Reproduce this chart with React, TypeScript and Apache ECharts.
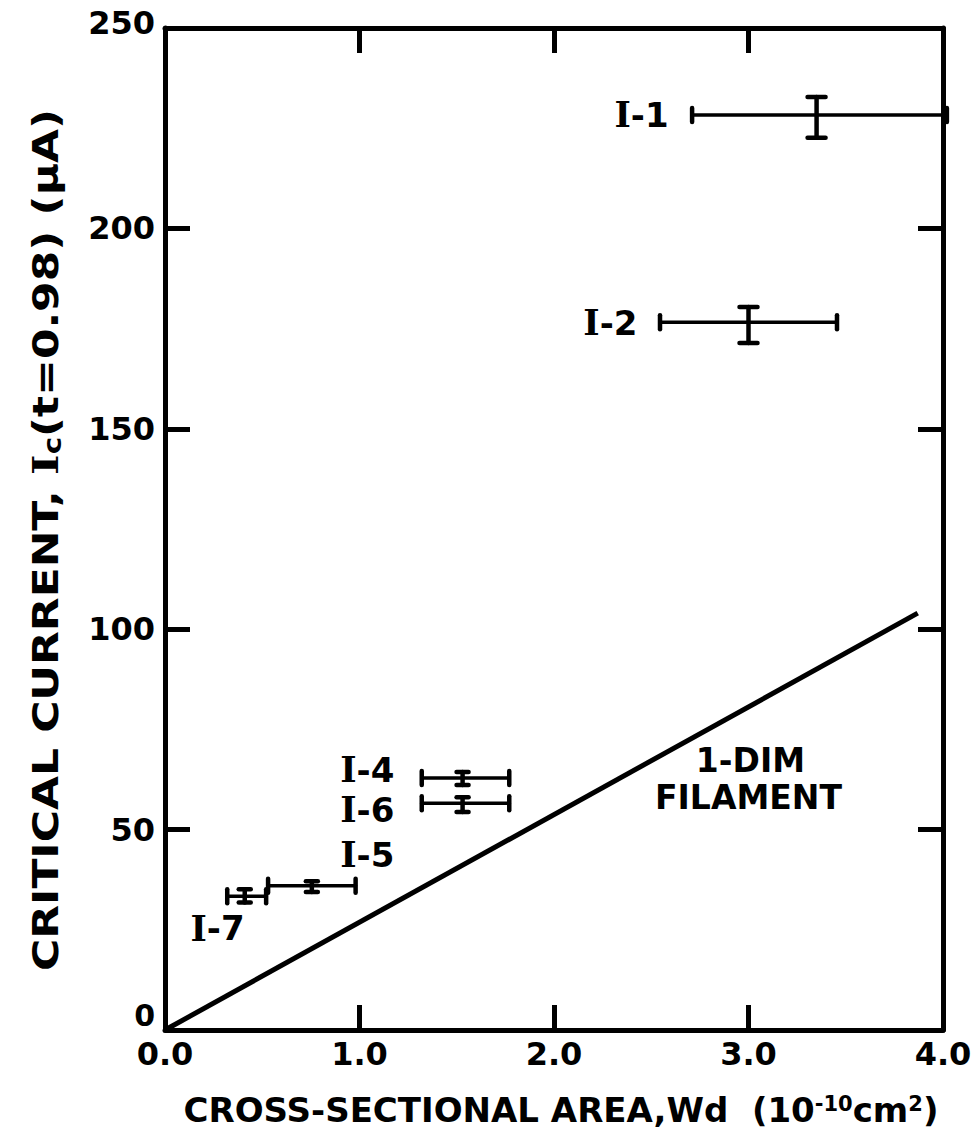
import React, { useEffect, useRef } from "react";
import * as echarts from "echarts";

// Error-bar samples: [xCenter, yCenter, xLow, xHigh, yLow, yHigh]
const sampleNames = ["I-1", "I-2", "I-4", "I-6", "I-5", "I-7"];
const sampleX = [3.35, 3.0, 1.53, 1.53, 0.755, 0.41];
const sampleY = [228.3, 176.6, 62.9, 56.6, 36.0, 33.4];
const sampleXLow = [2.71, 2.545, 1.32, 1.32, 0.53, 0.32];
const sampleXHigh = [4.02, 3.455, 1.77, 1.77, 0.98, 0.52];
const sampleYLow = [222.6, 171.4, 61.1, 54.4, 34.4, 31.8];
const sampleYHigh = [232.8, 180.4, 64.4, 58.1, 37.1, 35.1];

// Label anchor positions (data coordinates)
const labelX = [2.45, 2.29, 1.04, 1.04, 1.04, 0.27];
const labelY = [228.3, 176.4, 64.9, 54.9, 43.7, 25.4];

// 1-dim filament line
const filamentX = [0, 3.87];
const filamentY = [0, 104];
const filamentText = ["1-DIM", "FILAMENT"];
const filamentTextX = [3.01, 3.0];
const filamentTextY = [67.3, 58.0];

const xTicks = [0, 1, 2, 3, 4];
const yTicks = [0, 50, 100, 150, 200, 250];

const xTitle = "CROSS-SECTIONAL AREA,Wd  (10{sup|-10}cm{sup|2})";
const yTitle = "CRITICAL CURRENT, {ser|I}{sub|c}(t=0.98) (μA)";

const FONT = "'DejaVu Sans', sans-serif";
const SERIF = "'DejaVu Serif', serif";

export default function App() {
  const ref = useRef<HTMLDivElement>(null);
  useEffect(() => {
    document.body.style.margin = "0";
    const chart = echarts.init(ref.current!, null, { renderer: "svg" });
    const errData = sampleNames.map((n, i) => [
      sampleX[i], sampleY[i], sampleXLow[i], sampleXHigh[i], sampleYLow[i], sampleYHigh[i],
    ]);
    const lblData = sampleNames.map((n, i) => ({ value: [labelX[i], labelY[i]], name: n }));
    const filData = filamentX.map((x, i) => [x, filamentY[i]]);
    const filTextData = filamentText.map((t, i) => ({ value: [filamentTextX[i], filamentTextY[i]], name: t }));

    const axisCommon = {
      type: "value" as const,
      axisLine: { show: true, onZero: false, lineStyle: { color: "#000", width: 5 } },
      axisTick: { show: true, inside: true, length: 25, lineStyle: { color: "#000", width: 5 } },
      splitLine: { show: false },
    };

    const lblCommon = {
      show: true,
      position: "inside",
      fontWeight: "bold",
      fontFamily: FONT,
      color: "#000",
      opacity: 1,
      textBorderWidth: 0,
      textBorderColor: "transparent",
      align: "center",
      verticalAlign: "middle",
    };

    chart.setOption({
      animation: false,
      backgroundColor: "#fff",
      grid: { left: 165, right: 33, top: 28, bottom: 116, outerBoundsMode: "none" },
      graphic: [
        {
          type: "text",
          x: 561,
          y: 1110,
          style: {
            text: xTitle,
            align: "center",
            verticalAlign: "middle",
            fontSize: 34,
            fontWeight: "bold",
            fontFamily: FONT,
            fill: "#000",
            rich: {
              sup: { fontSize: 21, fontWeight: "bold", fontFamily: FONT, fill: "#000", verticalAlign: "top", lineHeight: 22, padding: [0, 0, 16, 0] },
            },
          },
        },
        {
          type: "text",
          x: 45,
          y: 540,
          rotation: Math.PI / 2,
          scaleX: 1.22,
          style: {
            text: yTitle,
            align: "center",
            verticalAlign: "middle",
            fontSize: 36,
            fontWeight: "bold",
            fontFamily: FONT,
            fill: "#000",
            rich: {
              ser: { fontSize: 36, fontWeight: "bold", fontFamily: SERIF, fill: "#000" },
              sub: { fontSize: 24, fontWeight: "bold", fontFamily: FONT, fill: "#000", padding: [14, 0, 0, 0] },
            },
          },
        },
      ],
      xAxis: [
        {
          ...axisCommon,
          position: "bottom",
          min: xTicks[0],
          max: xTicks[xTicks.length - 1],
          interval: 1,
          axisLabel: {
            margin: 8,
            fontSize: 32,
            fontWeight: "bold",
            fontFamily: FONT,
            color: "#000",
            formatter: (v: number) => v.toFixed(1),
          },
        },
        {
          ...axisCommon,
          position: "top",
          min: xTicks[0],
          max: xTicks[xTicks.length - 1],
          interval: 1,
          axisLabel: { show: false },
        },
      ],
      yAxis: [
        {
          ...axisCommon,
          position: "left",
          min: yTicks[0],
          max: yTicks[yTicks.length - 1],
          interval: 50,
          axisLabel: {
            margin: 10,
            fontSize: 32,
            fontWeight: "bold",
            fontFamily: FONT,
            color: "#000",
            formatter: (v: number) => (v === 0 ? "{z|0}" : v === 250 ? "{t|250}" : String(v)),
            rich: {
              z: { fontSize: 30, fontWeight: "bold", fontFamily: FONT, color: "#000", padding: [0, 0, 30, 0] },
              t: { fontSize: 32, fontWeight: "bold", fontFamily: FONT, color: "#000", padding: [0, 0, 10, 0] },
            },
          },
        },
        {
          ...axisCommon,
          position: "right",
          min: yTicks[0],
          max: yTicks[yTicks.length - 1],
          interval: 50,
          axisLabel: { show: false },
        },
      ],
      series: [
        {
          type: "line",
          data: filData,
          showSymbol: false,
          symbol: "none",
          lineStyle: { color: "#000", width: 5 },
          silent: true,
          z: 3,
        },
        {
          type: "custom",
          data: errData,
          z: 4,
          renderItem: (params: any, api: any) => {
            const y = api.value(1);
            const x = api.value(0);
            const l = api.coord([api.value(2), y]);
            const r = api.coord([api.value(3), y]);
            const lo = api.coord([x, api.value(4)]);
            const hi = api.coord([x, api.value(5)]);
            const hc = 7;
            const vc = Math.abs(lo[1] - hi[1]) > 25 ? 9 : 6;
            const st = { stroke: "#000", lineWidth: 3.5, lineCap: "round" };
            const capSt = { stroke: "#000", lineWidth: 4.5, lineCap: "round" };
            return {
              type: "group",
              children: [
                { type: "line", shape: { x1: l[0], y1: l[1], x2: r[0], y2: r[1] }, style: st },
                { type: "line", shape: { x1: l[0], y1: l[1] - hc, x2: l[0], y2: l[1] + hc }, style: capSt },
                { type: "line", shape: { x1: r[0], y1: r[1] - hc, x2: r[0], y2: r[1] + hc }, style: capSt },
                { type: "line", shape: { x1: lo[0], y1: lo[1], x2: hi[0], y2: hi[1] }, style: capSt },
                { type: "line", shape: { x1: lo[0] - vc, y1: lo[1], x2: lo[0] + vc, y2: lo[1] }, style: capSt },
                { type: "line", shape: { x1: hi[0] - vc, y1: hi[1], x2: hi[0] + vc, y2: hi[1] }, style: capSt },
              ],
            };
          },
        },
        {
          type: "scatter",
          data: lblData,
          symbolSize: 1,
          itemStyle: { color: "transparent", opacity: 1 },
          silent: true,
          label: {
            ...lblCommon,
            formatter: (p: any) => "{ser|I}" + String(p.name).slice(1),
            fontSize: 34,
            rich: {
              ser: { fontSize: 35, fontWeight: "bold", fontFamily: SERIF, color: "#000" },
            },
          },
        },
        {
          type: "scatter",
          data: filTextData,
          symbolSize: 1,
          itemStyle: { color: "transparent", opacity: 1 },
          silent: true,
          label: {
            ...lblCommon,
            formatter: (p: any) => p.name,
            fontSize: 33,
          },
        },
      ],
    });
    return () => chart.dispose();
  }, []);
  return <div ref={ref} style={{ width: 976, height: 1146 }} />;
}
